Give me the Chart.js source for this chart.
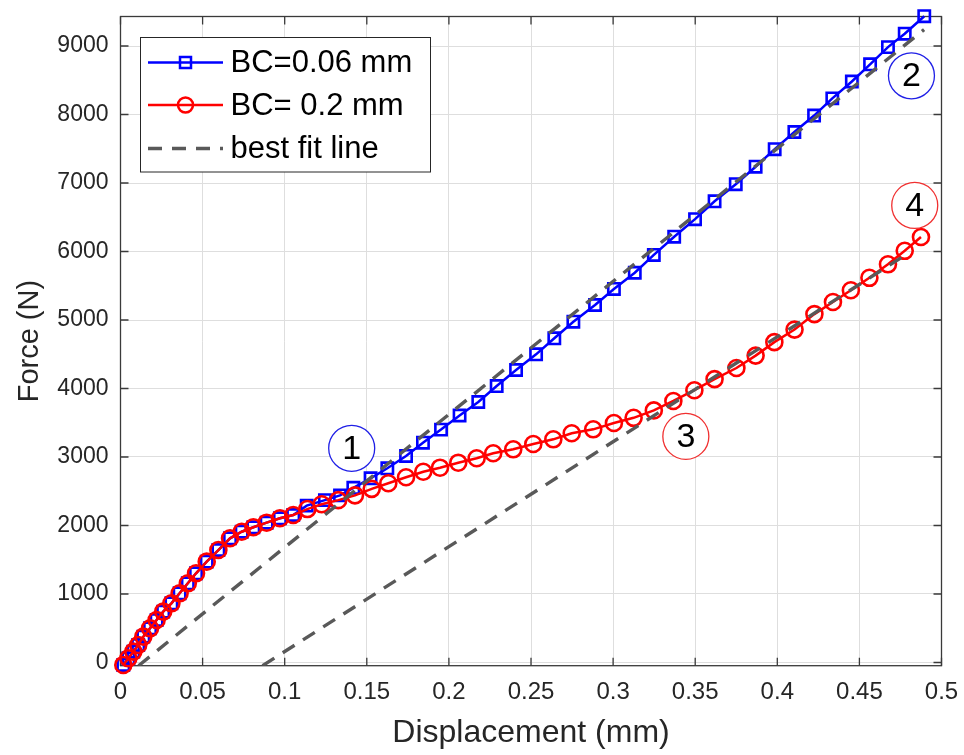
<!DOCTYPE html>
<html>
<head>
<meta charset="utf-8">
<script src="https://cdn.jsdelivr.net/npm/chart.js@4/dist/chart.umd.min.js"></script>
<style>
  html, body { margin: 0; padding: 0; background: #fff; }
  #wrap { width: 964px; height: 755px; }
</style>
</head>
<body>
<div id="wrap"><canvas id="forceChart" width="964" height="755"></canvas></div>
<script>
// --- dados ---
const xTicks = [0, 0.05, 0.1, 0.15, 0.2, 0.25, 0.3, 0.35, 0.4, 0.45, 0.5];
const xTickLabels = ['0', '0.05', '0.1', '0.15', '0.2', '0.25', '0.3', '0.35', '0.4', '0.45', '0.5'];
const yTicks = [0, 1000, 2000, 3000, 4000, 5000, 6000, 7000, 8000, 9000];
const yTickLabels = ['0', '1000', '2000', '3000', '4000', '5000', '6000', '7000', '8000', '9000'];

const seriesNames = ['BC=0.06 mm', 'BC= 0.2 mm', 'best fit line'];

// BC = 0.06 mm
const disp006 = [0.0017, 0.0048, 0.0078, 0.0108, 0.0139, 0.018, 0.022, 0.026, 0.031, 0.036, 0.041, 0.046,
  0.0525, 0.0596, 0.0667, 0.0738, 0.0809, 0.089, 0.0971, 0.1052, 0.1134, 0.1245, 0.1337, 0.1418,
  0.1523, 0.1625, 0.1739, 0.1842, 0.1952, 0.2065, 0.2179, 0.2291, 0.2409, 0.2531, 0.2642, 0.2758,
  0.289, 0.3005, 0.3132, 0.3248, 0.3372, 0.3499, 0.3618, 0.3747, 0.3868, 0.3984, 0.4104, 0.4224,
  0.4335, 0.4454, 0.4565, 0.4674, 0.4776, 0.4895];
const force006 = [-36, 61, 158, 255, 377, 499, 620, 742, 864, 1010, 1156, 1302,
  1472, 1642, 1813, 1909, 1974, 2041, 2105, 2153, 2290, 2370, 2440, 2550,
  2689, 2835, 3015, 3209, 3400, 3606, 3803, 4036, 4270, 4499, 4733, 4975,
  5219, 5453, 5690, 5950, 6216, 6472, 6733, 6983, 7238, 7494, 7745, 7985,
  8236, 8482, 8733, 8984, 9180, 9435];

// BC = 0.2 mm
const disp02 = [0.0017, 0.0048, 0.0078, 0.0108, 0.0139, 0.018, 0.022, 0.026, 0.031, 0.036, 0.041, 0.046,
  0.0525, 0.0596, 0.0667, 0.0738, 0.0809, 0.089, 0.0971, 0.1052, 0.1138, 0.1225, 0.1326, 0.1428,
  0.153, 0.1631, 0.1739, 0.1844, 0.1946, 0.2057, 0.2169, 0.227, 0.2392, 0.2514, 0.2636, 0.2748,
  0.2879, 0.3005, 0.3125, 0.3248, 0.3367, 0.3495, 0.3618, 0.3751, 0.3868, 0.3982, 0.4105, 0.4226,
  0.4339, 0.4448, 0.4561, 0.4674, 0.4776, 0.4875];
const force02 = [-36, 61, 158, 255, 377, 499, 620, 742, 864, 1010, 1156, 1302,
  1472, 1642, 1813, 1909, 1974, 2041, 2105, 2153, 2240, 2310, 2370, 2440,
  2535, 2616, 2704, 2785, 2844, 2917, 2981, 3054, 3112, 3190, 3258, 3346,
  3404, 3496, 3572, 3680, 3818, 3975, 4137, 4299, 4480, 4677, 4860, 5086,
  5263, 5435, 5616, 5813, 6010, 6212];

// retas de ajuste (início e fim)
const fitDispA = [0.011, 0.4894];
const fitForceA = [-47, 9240];
const fitDispB = [0.0865, 0.4807];
const fitForceB = [-47, 5990];

// números circulados
const noteText = ['1', '2', '3', '4'];
const noteDisp = [0.1408, 0.4817, 0.3443, 0.4837];
const noteForce = [3127, 8565, 3301, 6673];
const noteColor = ['#1f1fe6', '#1f1fe6', '#f03030', '#f03030'];

const BLUE = '#0000ff';
const RED = '#ff0000';
const FIT = '#595959';
const AXIS = '#3a3a3a';
const FONT = "'Liberation Sans', Arial, Helvetica, sans-serif";

function toPoints(xs, ys) {
    return xs.map((x, i) => ({ x: x, y: ys[i] }));
}

// caixa, marcas internas, legenda e anotações
const extrasPlugin = {
    id: 'extras',
    beforeDatasetsDraw(chart) {
        const { ctx, chartArea: a, scales } = chart;
        ctx.save();
        ctx.strokeStyle = AXIS;
        ctx.lineWidth = 1.3;
        ctx.strokeRect(a.left, a.top, a.right - a.left, a.bottom - a.top);
        const tl = 8;
        ctx.beginPath();
        xTicks.forEach(v => {
            const px = scales.x.getPixelForValue(v);
            ctx.moveTo(px, a.bottom); ctx.lineTo(px, a.bottom - tl);
            ctx.moveTo(px, a.top); ctx.lineTo(px, a.top + tl);
        });
        yTicks.forEach(v => {
            const py = scales.y.getPixelForValue(v);
            ctx.moveTo(a.left, py); ctx.lineTo(a.left + tl, py);
            ctx.moveTo(a.right, py); ctx.lineTo(a.right - tl, py);
        });
        ctx.stroke();
        ctx.restore();
    },
    afterDatasetsDraw(chart) {
        const { ctx, scales } = chart;
        ctx.save();
        // anotações
        noteText.forEach((t, i) => {
            const px = scales.x.getPixelForValue(noteDisp[i]);
            const py = scales.y.getPixelForValue(noteForce[i]);
            ctx.beginPath();
            ctx.arc(px, py, 23, 0, Math.PI * 2);
            ctx.fillStyle = '#fff';
            ctx.fill();
            ctx.lineWidth = 1.3;
            ctx.strokeStyle = noteColor[i];
            ctx.stroke();
            ctx.fillStyle = '#000';
            ctx.font = '34px ' + FONT;
            ctx.textAlign = 'center';
            ctx.textBaseline = 'middle';
            ctx.fillText(t, px, py + 1);
        });

        // legenda
        const box = { x: 140.5, y: 37.5, w: 290, h: 134.5 };
        ctx.fillStyle = '#fff';
        ctx.fillRect(box.x, box.y, box.w, box.h);
        ctx.lineWidth = 1;
        ctx.strokeStyle = '#262626';
        ctx.strokeRect(box.x, box.y, box.w, box.h);
        const rows = [62.5, 105, 148.5];
        const styles = [
            { color: BLUE, marker: 'rect', dash: [] },
            { color: RED, marker: 'circle', dash: [] },
            { color: FIT, marker: null, dash: [14, 10] }
        ];
        ctx.font = '31px ' + FONT;
        ctx.textAlign = 'left';
        ctx.textBaseline = 'middle';
        rows.forEach((ry, i) => {
            const s = styles[i];
            ctx.strokeStyle = s.color;
            ctx.lineWidth = s.marker ? 2.5 : 3.4;
            ctx.setLineDash(s.dash);
            ctx.beginPath();
            ctx.moveTo(148, ry); ctx.lineTo(223, ry);
            ctx.stroke();
            ctx.setLineDash([]);
            if (s.marker === 'rect') {
                ctx.strokeRect(185.5 - 5.5, ry - 5.5, 11, 11);
            } else if (s.marker === 'circle') {
                ctx.beginPath();
                ctx.arc(185.5, ry, 7.5, 0, Math.PI * 2);
                ctx.stroke();
            }
            ctx.fillStyle = '#000';
            ctx.fillText(seriesNames[i], 230.5, ry + 1);
        });
        ctx.restore();
    }
};

const ctx = document.getElementById('forceChart').getContext('2d');
new Chart(ctx, {
    type: 'scatter',
    data: {
        datasets: [
            {
                label: seriesNames[2],
                data: toPoints(fitDispA, fitForceA),
                showLine: true,
                borderColor: FIT,
                borderWidth: 3.4,
                borderDash: [14, 10],
                pointRadius: 0,
                order: 0
            },
            {
                label: seriesNames[2] + ' B',
                data: toPoints(fitDispB, fitForceB),
                showLine: true,
                borderColor: FIT,
                borderWidth: 3.4,
                borderDash: [14, 10],
                pointRadius: 0,
                order: 0
            },
            {
                label: seriesNames[1],
                data: toPoints(disp02, force02),
                showLine: true,
                borderColor: RED,
                borderWidth: 2.5,
                backgroundColor: 'rgba(0,0,0,0)',
                pointStyle: 'circle',
                pointRadius: 8,
                pointBorderWidth: 2.6,
                pointBorderColor: RED,
                pointBackgroundColor: 'rgba(0,0,0,0)',
                clip: false,
                order: 1
            },
            {
                label: seriesNames[0],
                data: toPoints(disp006, force006),
                showLine: true,
                borderColor: BLUE,
                borderWidth: 2.5,
                backgroundColor: 'rgba(0,0,0,0)',
                pointStyle: 'rect',
                pointRadius: 8,
                pointBorderWidth: 2.6,
                pointBorderColor: BLUE,
                pointBackgroundColor: 'rgba(0,0,0,0)',
                clip: false,
                order: 2
            }
        ]
    },
    options: {
        responsive: false,
        animation: false,
        events: [],
        layout: { padding: { left: 0, right: 22.5, top: 16.5, bottom: 0 } },
        plugins: {
            legend: { display: false },
            tooltip: { enabled: false }
        },
        scales: {
            x: {
                type: 'linear',
                min: 0,
                max: 0.5,
                afterBuildTicks: s => { s.ticks = xTicks.map(v => ({ value: v })); },
                afterFit: s => { s.height = 89.3; s.paddingLeft = 0; s.paddingRight = 0; },
                ticks: {
                    callback: (v, i) => xTickLabels[i],
                    color: '#262626',
                    font: { family: FONT, size: 24 },
                    padding: 12,
                    maxRotation: 0,
                    autoSkip: false
                },
                grid: { color: '#dedede', lineWidth: 1, drawTicks: false },
                border: { display: false },
                title: {
                    display: true,
                    text: 'Displacement (mm)',
                    color: '#262626',
                    font: { family: FONT, size: 32 },
                    padding: { top: 0, bottom: 3 }
                }
            },
            y: {
                type: 'linear',
                min: -47,
                max: 9431,
                afterBuildTicks: s => { s.ticks = yTicks.map(v => ({ value: v })); },
                afterFit: s => { s.width = 120.5; s.paddingTop = 0; s.paddingBottom = 0; },
                ticks: {
                    callback: (v, i) => yTickLabels[i],
                    color: '#262626',
                    font: { family: FONT, size: 23 },
                    padding: 12,
                    autoSkip: false
                },
                grid: { color: '#dedede', lineWidth: 1, drawTicks: false },
                border: { display: false },
                title: {
                    display: true,
                    text: 'Force (N)',
                    color: '#262626',
                    font: { family: FONT, size: 29 },
                    padding: { top: 13, bottom: 0 }
                }
            }
        }
    },
    plugins: [extrasPlugin]
});
</script>
</body>
</html>
